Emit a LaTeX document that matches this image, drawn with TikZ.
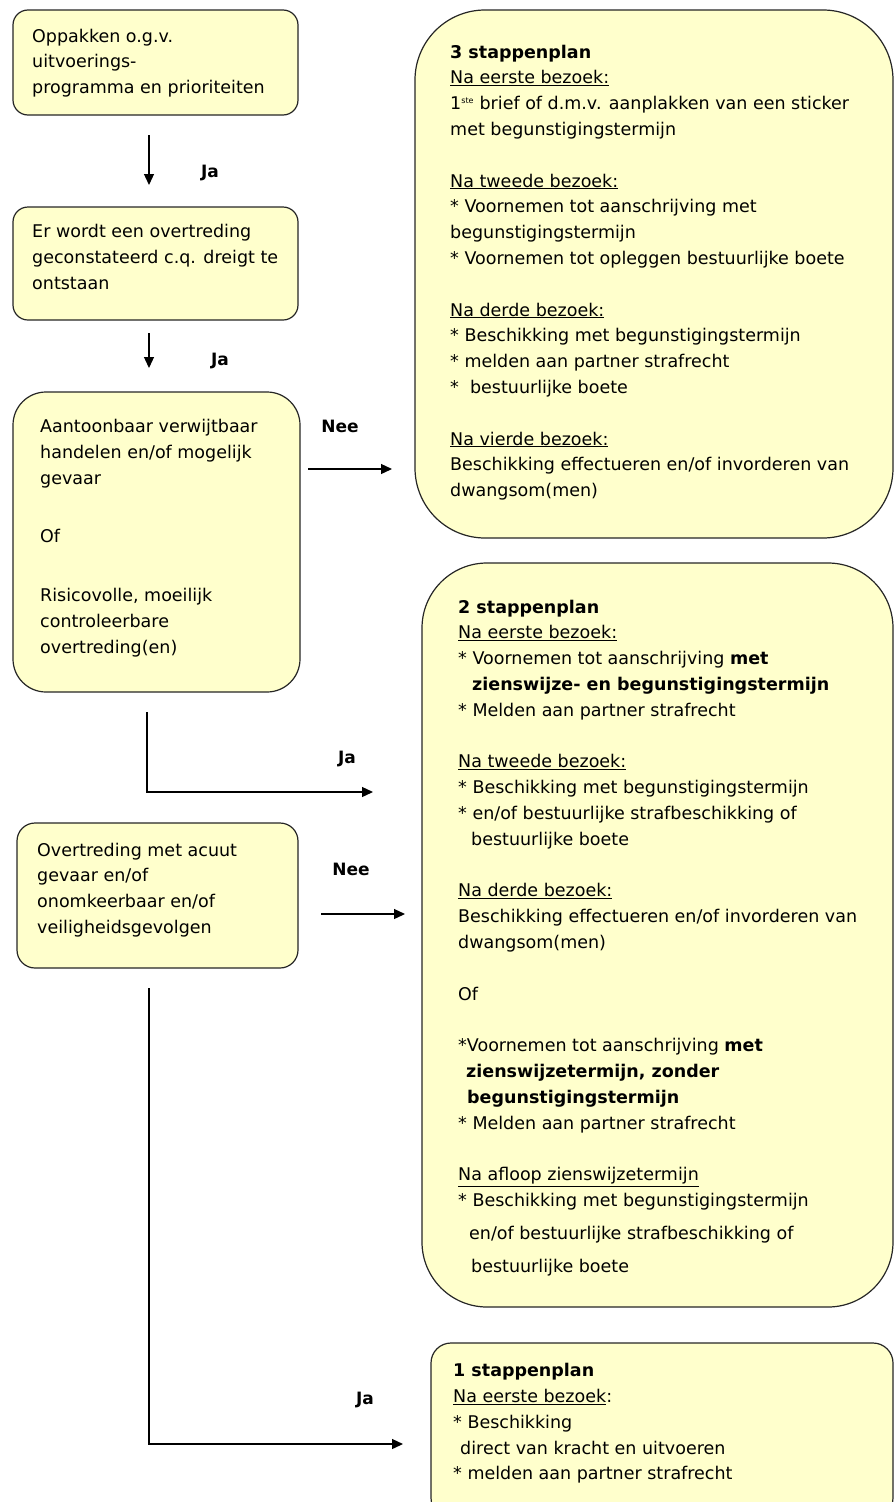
\documentclass[tikz,border=0pt]{standalone}
\usepackage{fontspec}
\setmainfont{DejaVu Sans}
\usetikzlibrary{arrows.meta,calc}
\definecolor{boxfill}{RGB}{255,255,204}
\tikzset{
  box/.style={draw=black!85, line width=1.2pt, fill=boxfill, rectangle, inner sep=0pt, outer sep=0pt, anchor=north west},
  txt/.style={anchor=west, align=left, inner sep=0pt, font=\fontsize{17.5}{25.8}\selectfont},
  lbl/.style={font=\fontsize{17}{20}\selectfont\bfseries, inner sep=0pt},
  arr/.style={line width=1.3pt, -{Triangle[length=11pt,width=10pt]}},
}
\begin{document}
\begin{tikzpicture}[x=1pt,y=-1pt]
\useasboundingbox (0,0) rectangle (894,1502);
\clip (0,0) rectangle (894,1502);

% boxes
\node[box, minimum width=285pt, minimum height=105pt, rounded corners=15pt] (A) at (13,10) {};
\node[box, minimum width=285pt, minimum height=113pt, rounded corners=15pt] (B) at (13,207) {};
\node[box, minimum width=287pt, minimum height=300pt, rounded corners=33pt] (C) at (13,392) {};
\node[box, minimum width=281pt, minimum height=145pt, rounded corners=18pt] (D) at (17,823) {};
\node[box, minimum width=478pt, minimum height=528pt, rounded corners=70pt] (P3) at (415,10) {};
\node[box, minimum width=471pt, minimum height=744pt, rounded corners=65pt] (P2) at (422,563) {};
\node[box, minimum width=462pt, minimum height=175pt, rounded corners=20pt] (P1) at (431,1343) {};

% texts
\node[txt] (tA) at (32,63) {Oppakken o.g.v.\\uitvoerings-\\programma en prioriteiten};
\node[txt] (tB) at (32,257) {Er wordt een overtreding\\geconstateerd c.q. dreigt te\\ontstaan};
\node[txt, font=\fontsize{17.5}{26}\selectfont] (tC) at (40,538.5) {Aantoonbaar verwijtbaar\\handelen en/of mogelijk\\gevaar\\[32pt]Of\\[33pt]Risicovolle, moeilijk\\controleerbare\\overtreding(en)};
\node[txt] (tD) at (37,890) {Overtreding met acuut\\gevaar en/of\\onomkeerbaar en/of\\veiligheidsgevolgen};

\node[txt] (t3) at (450,272.5) {\textbf{3 stappenplan}\\\underline{Na eerste bezoek:}\\1\textsuperscript{\fontsize{8}{8}\selectfont ste} brief of d.m.v. aanplakken van een sticker\\met begunstigingstermijn\\[25.8pt]\underline{Na tweede bezoek:}\\{*} Voornemen tot aanschrijving met\\begunstigingstermijn\\{*} Voornemen tot opleggen bestuurlijke boete\\[25.8pt]\underline{Na derde bezoek:}\\{*} Beschikking met begunstigingstermijn\\{*} melden aan partner strafrecht\\{*}\ \ bestuurlijke boete\\[25.8pt]\underline{Na vierde bezoek:}\\Beschikking effectueren en/of invorderen van\\dwangsom(men)};

\node[txt] (t2) at (458,938) {\textbf{2 stappenplan}\\\underline{Na eerste bezoek:}\\{*} Voornemen tot aanschrijving \textbf{met}\\\hspace*{14pt}\textbf{zienswijze- en begunstigingstermijn}\\{*} Melden aan partner strafrecht\\[25.8pt]\underline{Na tweede bezoek:}\\{*} Beschikking met begunstigingstermijn\\{*} en/of bestuurlijke strafbeschikking of\\\hspace*{13pt}bestuurlijke boete\\[25.8pt]\underline{Na derde bezoek:}\\Beschikking effectueren en/of invorderen van\\dwangsom(men)\\[25.8pt]Of\\[25.8pt]{*}Voornemen tot aanschrijving \textbf{met}\\\hspace*{8pt}\textbf{zienswijzetermijn, zonder}\\\hspace*{9pt}\textbf{begunstigingstermijn}\\{*} Melden aan partner strafrecht\\[25.8pt]\underline{Na afloop zienswijzetermijn}\\{*} Beschikking met begunstigingstermijn\\[7.2pt]\hspace*{11pt}en/of bestuurlijke strafbeschikking of\\[7.2pt]\hspace*{13pt}bestuurlijke boete};

\node[txt] (t1) at (453,1423.5) {\textbf{1 stappenplan}\\\underline{Na eerste bezoek}:\\{*} Beschikking\\\hspace*{7pt}direct van kracht en uitvoeren\\{*} melden aan partner strafrecht};

% connectors
\coordinate (yN1) at (0,469);
\coordinate (yJ1) at (0,792);
\coordinate (yN2) at (0,914);
\coordinate (yJ2) at (0,1444);

\draw[arr, shorten <=20pt, shorten >=22pt] ([xshift=-6.5pt]A.south) -- ([xshift=-6.5pt]A.south |- B.north);
\draw[arr, shorten <=13pt, shorten >=24pt] ([xshift=-6.5pt]B.south) -- ([xshift=-6.5pt]B.south |- C.north);
\draw[arr, shorten <=8pt, shorten >=23pt] (C.east |- yN1) -- (P3.west |- yN1);
\draw[arr, shorten <=20pt, shorten >=49pt] ([xshift=-9.5pt]C.south) -- ([xshift=-9.5pt]C.south |- yJ1) -- (P2.west |- yJ1);
\draw[arr, shorten <=23pt, shorten >=17pt] (D.east |- yN2) -- (P2.west |- yN2);
\draw[arr, shorten <=20pt, shorten >=28pt] ([xshift=-8.5pt]D.south) -- ([xshift=-8.5pt]D.south |- yJ2) -- (P1.west |- yJ2);

% labels
\node[lbl] (l1) at (210,173) {Ja};
\node[lbl] (l2) at (220,361) {Ja};
\node[lbl] (l3) at (340,426) {Nee};
\node[lbl] (l4) at (347,759) {Ja};
\node[lbl] (l5) at (351,869) {Nee};
\node[lbl] (l6) at (365,1400) {Ja};
\end{tikzpicture}
\end{document}
